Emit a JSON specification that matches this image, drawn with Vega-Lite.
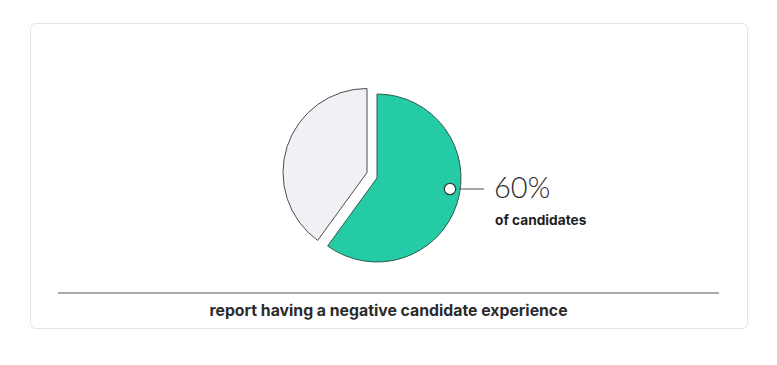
{
  "$schema": "https://vega.github.io/schema/vega-lite/v6.json",
  "width": 717,
  "height": 305,
  "autosize": {"type": "none"},
  "padding": {"left": 30, "top": 23, "right": 30, "bottom": 37},
  "background": "white",
  "config": {"view": {"stroke": "#e4e4ec", "strokeWidth": 1, "cornerRadius": 5}},
  "data": {"values": [
    {"group": "negative", "share": 0.6, "order": 1},
    {"group": "other", "share": 0.4, "order": 2}
  ]},
  "transform": [
    {"stack": "share", "sort": [{"field": "order"}], "groupby": [], "as": ["s0", "s1"]}
  ],
  "layer": [
    {
      "transform": [{"filter": "datum.group === 'other'"}],
      "mark": {"type": "arc", "radius": 84, "fill": "#f0f1f5", "stroke": "#4d4d4d", "strokeWidth": 1, "xOffset": -21.5, "yOffset": -3},
      "encoding": {
        "theta": {"field": "s0", "type": "quantitative", "stack": null, "scale": {"domain": [0, 1]}},
        "theta2": {"field": "s1"}
      }
    },
    {
      "transform": [{"filter": "datum.group === 'negative'"}],
      "mark": {"type": "arc", "radius": 84, "fill": "#24cba5", "stroke": "#2f5c50", "strokeWidth": 1, "xOffset": -11.5, "yOffset": 2.5},
      "encoding": {
        "theta": {"field": "s0", "type": "quantitative", "stack": null, "scale": {"domain": [0, 1]}},
        "theta2": {"field": "s1"}
      }
    },
    {
      "data": {"values": [{}]},
      "mark": {"type": "rule", "stroke": "#4d4d4d", "strokeWidth": 1},
      "encoding": {"x": {"value": 429}, "x2": {"value": 454}, "y": {"value": 166}}
    },
    {
      "data": {"values": [{}]},
      "mark": {"type": "point", "filled": true, "fill": "white", "stroke": "#3a3a3a", "strokeWidth": 1.2, "size": 130, "opacity": 1},
      "encoding": {"x": {"value": 420}, "y": {"value": 166}}
    },
    {
      "transform": [{"filter": "datum.group === 'negative'"}],
      "mark": {"type": "text", "align": "left", "baseline": "middle", "font": "Lato", "fontWeight": 300, "fontSize": 29, "color": "#2b2b2b"},
      "encoding": {
        "x": {"value": 464},
        "y": {"value": 166},
        "text": {"field": "share", "type": "quantitative", "format": ".0%"}
      }
    },
    {
      "data": {"values": [{}]},
      "mark": {"type": "text", "text": "of candidates", "align": "left", "baseline": "middle", "font": "Inter", "fontWeight": "bold", "fontSize": 13.7, "color": "#1f1f1f"},
      "encoding": {"x": {"value": 465}, "y": {"value": 198}}
    },
    {
      "data": {"values": [{}]},
      "mark": {"type": "rule", "stroke": "#555555", "strokeWidth": 1},
      "encoding": {"x": {"value": 28}, "x2": {"value": 689}, "y": {"value": 270}}
    },
    {
      "data": {"values": [{}]},
      "mark": {"type": "text", "text": "report having a negative candidate experience", "align": "center", "baseline": "middle", "font": "Inter", "fontWeight": "bold", "fontSize": 15.8, "color": "#2b2b2b"},
      "encoding": {"x": {"value": 358.5}, "y": {"value": 288}}
    }
  ]
}
